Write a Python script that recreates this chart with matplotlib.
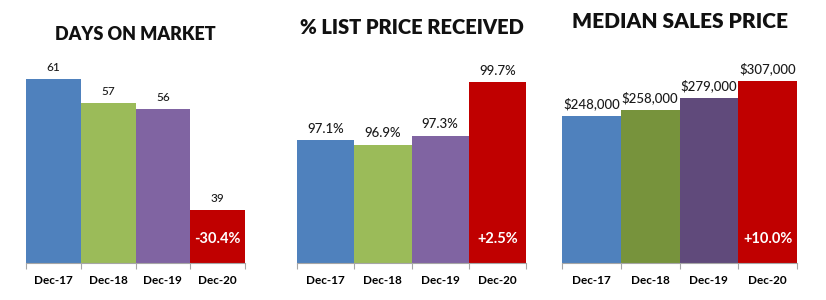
import matplotlib
matplotlib.use('Agg')
import matplotlib.pyplot as plt

plt.rcParams['font.family'] = ['Lato', 'DejaVu Sans']

months = ['Dec-17', 'Dec-18', 'Dec-19', 'Dec-20']

days_on_market = [61, 57, 56, 39]
days_labels = ['61', '57', '56', '39']
days_change = '-30.4%'

list_price_pct = [97.1, 96.9, 97.3, 99.7]
list_price_labels = ['97.1%', '96.9%', '97.3%', '99.7%']
list_price_change = '+2.5%'

median_price = [248000, 258000, 279000, 307000]
median_price_labels = ['$248,000', '$258,000', '$279,000', '$307,000']
median_price_change = '+10.0%'

W, H = 826, 300
fig = plt.figure(figsize=(W / 100, H / 100), dpi=100)
fig.patch.set_facecolor('white')

def px_axes(x0, x1, y_base, y_top):
	return fig.add_axes([x0 / W, (H - y_base) / H, (x1 - x0) / W, (y_base - y_top) / H])

panels = [
	dict(title='DAYS ON MARKET', title_y=35, title_size=13, x=(26, 245),
	     values=days_on_market, labels=days_labels, change=days_change,
	     ylim=(30.1, 64.2), colors=['#4F81BD', '#9BBB59', '#8064A2', '#C00000'],
	     label_size=8.5),
	dict(title='% LIST PRICE RECEIVED', title_y=27, title_size=14.5, x=(297, 526),
	     values=list_price_pct, labels=list_price_labels, change=list_price_change,
	     ylim=(91.6, 100.7), colors=['#4F81BD', '#9BBB59', '#8064A2', '#C00000'],
	     label_size=9.5),
	dict(title='MEDIAN SALES PRICE', title_y=22, title_size=15, x=(562, 797),
	     values=median_price, labels=median_price_labels, change=median_price_change,
	     ylim=(0, 342300), colors=['#4F81BD', '#77933C', '#604A7B', '#C00000'],
	     label_size=9.5),
]

for p in panels:
	ax = px_axes(p['x'][0], p['x'][1], 263, 60)
	ax.bar(range(len(months)), p['values'], width=1.0, color=p['colors'], zorder=2)
	ax.set_xlim(-0.5, len(months) - 0.5)
	ax.set_ylim(*p['ylim'])
	for s in ('top', 'right', 'left'):
		ax.spines[s].set_visible(False)
	ax.spines['bottom'].set_color('#A6A6A6')
	ax.set_yticks([])
	# category boundaries get the tick marks, names sit between them
	ax.set_xticks([i - 0.5 for i in range(len(months) + 1)])
	ax.set_xticklabels([])
	ax.tick_params(axis='x', which='major', length=4, color='#A6A6A6', direction='out')
	ax.set_xticks(range(len(months)), minor=True)
	ax.set_xticklabels(months, minor=True, fontweight='bold', fontsize=8.5)
	ax.tick_params(axis='x', which='minor', length=0, pad=9)
	for i, (v, lab) in enumerate(zip(p['values'], p['labels'])):
		ax.annotate(lab, (i, v), xytext=(0, 4), textcoords='offset points',
		            ha='center', va='bottom', fontsize=p['label_size'],
		            fontweight='medium', color='#1a1a1a')
	ax.annotate(p['change'], (len(months) - 1, p['ylim'][0]), xytext=(0, 17),
	            textcoords='offset points', ha='center', va='center',
	            fontsize=10.5, fontweight='bold', color='white')
	cx = (p['x'][0] + p['x'][1]) / 2 / W
	fig.text(cx, 1 - p['title_y'] / H, p['title'], ha='center', va='center',
	         fontsize=p['title_size'], fontweight='heavy', color='#111111')

fig.savefig('out.png', dpi=100, facecolor='white')
